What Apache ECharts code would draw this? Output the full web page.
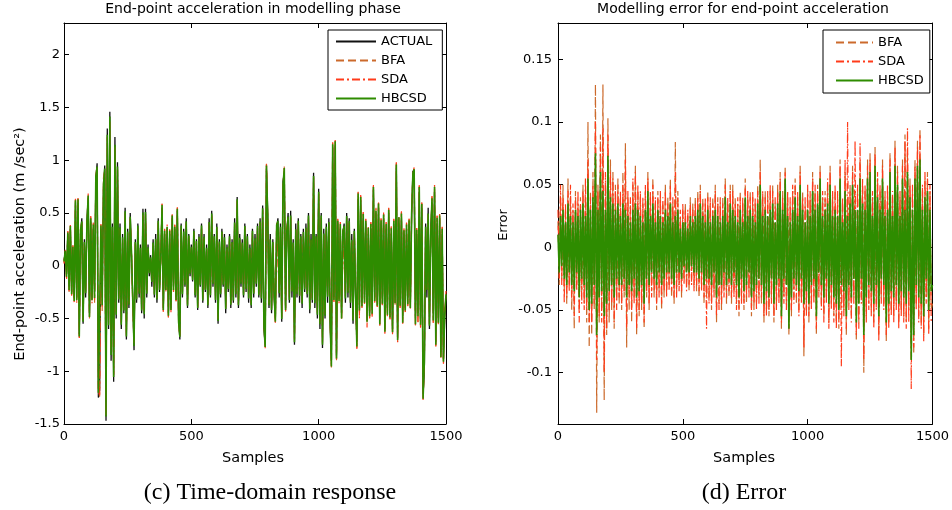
<!DOCTYPE html>
<html>
<head>
<meta charset="utf-8">
<script src="https://cdn.jsdelivr.net/npm/echarts@6/dist/echarts.min.js"></script>
<style>html,body{margin:0;padding:0;background:#fff}#c{width:952px;height:510px}</style>
</head>
<body>
<div id="c"></div>
<script>
const sampleStep = 5;

// End-point acceleration, actual (m/sec^2)
const actual = [
 0.05,0.12,-0.08,0.3,-0.2,0.35,-0.25,0.15,-0.3,0.6,
 -0.3,0.6,-0.65,0.3,0.45,-0.55,0.25,-0.3,0.43,0.64,
 -0.45,0.42,-0.3,0.35,-0.25,0.8,0.97,-1.25,-1.18,0.35,
 -0.3,0.7,0.95,-1.47,1.3,-0.6,1.46,-0.9,0.4,-1.1,
 1.22,-0.5,0.98,-0.35,0.4,-0.6,0.3,-0.45,0.55,-0.7,
 0.35,-0.4,0.5,0.1,-0.3,-0.8,0.25,-0.35,0.4,-0.3,
 0.2,-0.45,0.54,-0.5,0.54,-0.3,0.2,-0.1,0.1,-0.2,
 0.25,-0.3,0.3,-0.35,0.45,-0.25,0.1,0.55,-0.4,0.3,
 -0.2,0.35,-0.45,0.3,-0.4,0.45,-0.2,0.35,-0.3,0.52,
 -0.5,-0.7,0.4,-0.3,0.35,-0.2,0.45,-0.4,0.3,-0.1,
 0.2,-0.15,0.35,-0.3,0.25,-0.42,0.3,-0.2,0.4,-0.35,
 0.3,-0.25,0.2,-0.4,0.45,-0.3,0.52,-0.2,0.3,-0.35,
 0.4,-0.55,0.25,-0.3,0.35,-0.2,0.3,-0.45,0.2,-0.25,
 0.3,-0.4,0.25,-0.35,0.45,-0.3,0.65,-0.4,0.3,-0.2,
 0.25,-0.3,0.4,-0.25,0.3,-0.35,0.2,-0.4,0.35,-0.3,
 0.3,-0.2,0.4,-0.3,0.45,-0.35,0.57,-0.6,-0.75,0.92,
 0.5,-0.4,0.3,-0.45,0.25,-0.3,-0.5,0.35,0.45,-0.3,
 0.4,-0.53,0.8,0.88,-0.4,0.3,0.5,-0.35,0.52,-0.3,
 0.25,-0.75,0.4,-0.3,0.45,-0.35,0.3,-0.4,0.35,-0.25,
 0.4,-0.3,0.5,-0.45,0.3,-0.35,0.88,-0.4,0.3,-0.5,
 0.73,-0.6,0.5,-0.78,0.35,-0.5,0.4,-0.35,0.45,-0.55,
 -0.9,1.12,-0.3,1.14,-0.85,0.4,-0.3,0.35,-0.45,0.3,
 0.4,-0.35,0.5,-0.3,0.45,-0.4,0.3,-0.55,0.35,-0.3,
 -0.72,0.63,-0.4,0.62,-0.35,0.45,-0.3,0.4,-0.5,0.3,
 -0.45,0.35,-0.4,0.72,-0.3,0.45,-0.35,0.55,-0.5,0.4,
 -0.3,0.45,-0.6,0.35,-0.4,0.5,-0.45,0.3,-0.6,0.4,
 -0.3,0.93,-0.68,0.4,-0.35,0.45,-0.48,0.3,-0.4,0.35,
 -0.3,0.4,-0.35,0.45,0.9,0.88,-0.5,0.3,-0.45,0.7,
 -0.5,0.55,-1.22,-1.0,0.4,-0.3,0.55,-0.6,0.35,0.6,
 -0.45,0.7,-0.72,0.4,-0.5,0.45,-0.82,0.3,-0.88,-0.5,
 -0.3
];

// Modelling error, BFA
const bfaErr = [
 .02,-.03,.04,-.025,.05,-.035,.03,-.045,.055,-.03,
 .04,-.05,.03,-.065,.045,-.03,.035,-.05,.04,-.035,
 .05,-.045,.04,-.06,.1,-.08,.045,-.07,.06,-.05,
 .13,-.132,.05,-.06,.09,-.05,.13,-.122,.05,-.07,
 .103,-.06,.07,-.05,.06,-.065,.05,-.04,.055,-.045,
 .04,-.05,.06,-.04,.083,-.08,.04,-.05,.035,-.06,
 .05,-.04,.065,-.07,.045,-.055,.04,-.05,.035,-.065,
 .045,-.04,.06,-.05,.04,-.035,.055,-.04,.035,-.05,
 .045,-.035,.04,-.05,.035,-.04,.05,-.035,.04,-.03,
 .055,-.04,.035,-.045,.084,-.035,.045,-.03,.025,-.04,
 .03,-.025,.035,-.03,.025,-.035,.04,-.025,.035,-.03,
 .04,-.035,.045,-.04,.05,-.03,.04,-.045,.035,-.04,
 .045,-.04,.035,-.05,.04,-.035,.05,-.06,.04,-.045,
 .035,-.05,.04,-.035,.055,-.045,.035,-.04,.05,-.045,
 .05,-.035,.04,-.045,.035,-.055,.045,-.04,.035,-.05,
 .055,-.045,.04,-.035,.045,-.055,.04,-.05,.035,-.045,
 .05,-.04,.07,-.045,.04,-.06,.045,-.05,.04,-.055,
 .045,-.04,.05,-.06,.035,-.045,.05,-.04,.06,-.065,
 .045,-.04,.065,-.045,.04,-.07,.035,-.055,.045,-.04,
 .055,-.045,.04,-.05,.065,-.04,.045,-.087,.035,-.05,
 .045,-.06,.04,-.045,.06,-.04,.045,-.07,.05,-.035,
 .065,-.045,.04,-.055,.045,-.04,.05,-.06,.065,-.045,
 .04,-.055,.045,-.06,.04,-.065,.07,-.045,.035,-.05,
 .06,-.07,.04,-.045,.05,-.055,.065,-.04,.045,-.075,
 .045,-.06,.07,-.04,.05,-.1,.045,-.055,.07,-.045,
 .075,-.05,.04,-.06,.08,-.045,.055,-.07,.045,-.04,
 .07,-.045,.04,-.075,.045,-.06,.075,-.05,.04,-.055,
 .085,-.045,.065,-.06,.04,-.05,.07,-.055,.09,-.06,
 .075,-.05,.055,-.08,.045,-.085,.07,-.045,.085,-.055,
 .095,-.06,.045,-.07,.055,-.04,.06,-.065,.045,-.05,
 -.045
];

// Modelling error, SDA
const sdaErr = [
 .03,-.025,.05,-.03,.04,-.045,.035,-.04,.045,-.035,
 .05,-.04,.035,-.055,.04,-.035,.045,-.06,.035,-.045,
 .045,-.05,.055,-.05,.07,-.06,.04,-.06,.05,-.045,
 .1,-.09,.045,-.055,.08,-.06,.095,-.1,.06,-.065,
 .09,-.05,.06,-.045,.055,-.06,.045,-.05,.05,-.04,
 .045,-.045,.05,-.035,.07,-.065,.045,-.04,.04,-.05,
 .055,-.045,.06,-.065,.05,-.05,.045,-.045,.04,-.06,
 .05,-.035,.055,-.045,.045,-.04,.05,-.035,.04,-.045,
 .04,-.04,.045,-.045,.04,-.035,.045,-.04,.035,-.035,
 .05,-.035,.04,-.04,.06,-.04,.04,-.035,.03,-.035,
 .035,-.03,.03,-.035,.03,-.03,.035,-.03,.03,-.035,
 .035,-.03,.04,-.035,.045,-.035,.035,-.04,.04,-.065,
 .04,-.045,.04,-.045,.035,-.04,.045,-.055,.035,-.05,
 .04,-.045,.035,-.04,.05,-.04,.04,-.035,.045,-.04,
 .045,-.04,.035,-.05,.04,-.05,.04,-.045,.04,-.045,
 .05,-.04,.045,-.04,.04,-.05,.045,-.045,.04,-.05,
 .045,-.045,.06,-.04,.045,-.055,.04,-.055,.045,-.05,
 .05,-.045,.045,-.055,.04,-.05,.045,-.045,.055,-.06,
 .04,-.045,.06,-.05,.045,-.065,.04,-.05,.05,-.045,
 .05,-.04,.045,-.055,.06,-.045,.04,-.08,.04,-.055,
 .05,-.055,.045,-.05,.055,-.045,.05,-.065,.045,-.04,
 .06,-.05,.045,-.06,.04,-.045,.055,-.065,.06,-.05,
 .045,-.06,.05,-.065,.045,-.06,.065,-.095,.04,-.055,
 .07,-.065,.1,-.05,.045,-.06,.06,-.045,.085,-.07,
 .05,-.065,.083,-.045,.055,-.09,.05,-.06,.065,-.05,
 .07,-.055,.045,-.065,.075,-.05,.06,-.075,.05,-.045,
 .065,-.05,.045,-.07,.05,-.065,.07,-.055,.045,-.06,
 .08,-.05,.06,-.065,.045,-.055,.065,-.06,.085,-.065,
 .095,-.06,.05,-.113,.05,-.08,.065,-.05,.08,-.06,
 .09,-.065,.05,-.075,.06,-.045,.055,-.07,.05,-.06,
 -.06
];

// Modelling error, HBCSD
const hbcsdErr = [
 .01,-.02,.025,-.015,.03,-.025,.02,-.03,.035,-.02,
 .025,-.03,.02,-.035,.03,-.02,.025,-.04,.03,-.025,
 .035,-.03,.025,-.04,.055,-.05,.03,-.045,.04,-.03,
 .075,-.07,.03,-.04,.06,-.035,.045,-.055,.03,-.045,
 .073,-.035,.04,-.03,.035,-.04,.03,-.025,.035,-.03,
 .025,-.03,.035,-.025,.03,-.04,.025,-.03,.02,-.035,
 .03,-.025,.035,-.04,.03,-.035,.025,-.03,.02,-.045,
 .03,-.025,.045,-.03,.025,-.02,.035,-.025,.02,-.03,
 .03,-.02,.025,-.03,.02,-.025,.03,-.02,.025,-.02,
 .035,-.025,.02,-.03,.025,-.02,.03,-.02,.015,-.025,
 .02,-.015,.02,-.02,.015,-.02,.025,-.015,.02,-.02,
 .025,-.02,.03,-.025,.035,-.02,.025,-.03,.02,-.025,
 .03,-.025,.02,-.03,.025,-.02,.03,-.04,.025,-.03,
 .02,-.03,.025,-.02,.04,-.03,.02,-.025,.035,-.03,
 .03,-.02,.025,-.03,.02,-.04,.03,-.025,.02,-.035,
 .04,-.03,.025,-.02,.03,-.04,.025,-.035,.02,-.03,
 .035,-.025,.05,-.03,.025,-.045,.03,-.035,.025,-.04,
 .03,-.025,.035,-.045,.02,-.03,.035,-.025,.045,-.055,
 .03,-.025,.055,-.03,.025,-.065,.02,-.04,.03,-.025,
 .04,-.03,.025,-.035,.05,-.025,.03,-.045,.02,-.035,
 .03,-.045,.025,-.03,.045,-.025,.03,-.055,.035,-.02,
 .055,-.03,.025,-.04,.03,-.025,.035,-.045,.05,-.03,
 .025,-.04,.03,-.045,.025,-.05,.055,-.03,.02,-.035,
 .045,-.055,.025,-.03,.035,-.04,.05,-.025,.03,-.06,
 .03,-.045,.055,-.025,.035,-.07,.03,-.04,.055,-.03,
 .06,-.035,.025,-.045,.065,-.03,.04,-.055,.03,-.025,
 .055,-.03,.025,-.06,.03,-.045,.06,-.035,.025,-.04,
 .065,-.03,.05,-.045,.025,-.035,.055,-.04,.03,-.045,
 .06,-.035,.04,-.09,.03,-.07,.055,-.03,.065,-.04,
 .07,-.045,.03,-.055,.04,-.025,.045,-.05,.03,-.035,
 -.03
];

// Axis ticks
const xTicks = [0, 500, 1000, 1500];
const accTicks = [-1.5, -1, -0.5, 0, 0.5, 1, 1.5, 2];
const errTicks = [-0.1, -0.05, 0, 0.05, 0.1, 0.15];

const names = ['ACTUAL', 'BFA', 'SDA', 'HBCSD'];
const colors = { ACTUAL: '#111111', BFA: '#CC6A2C', SDA: '#FF3B1A', HBCSD: '#2E8C00' };

const pairs = arr => arr.map((v, i) => [i * sampleStep, v]);
const predicted = err => actual.map((v, i) => [i * sampleStep, +(v - err[i]).toFixed(4)]);

const FONT = 'DejaVu Sans';
const fmt = v => String(Math.round(v * 1000) / 1000);

function xAx(grid, pos) {
  return {
    type: 'value', gridIndex: grid, position: pos, min: 0, max: 1500,
    axisLine: { show: true, onZero: false, lineStyle: { color: '#000', width: 1 } },
    axisTick: { show: true, inside: true, length: 5, customValues: xTicks, lineStyle: { color: '#000' } },
    axisLabel: { show: pos === 'bottom', customValues: xTicks, margin: 6, color: '#000', fontFamily: FONT, fontSize: 13, formatter: v => String(v) },
    splitLine: { show: false }
  };
}
function yAx(grid, pos, min, max, ticks, margin) {
  return {
    type: 'value', gridIndex: grid, position: pos, min: min, max: max,
    axisLine: { show: true, onZero: false, lineStyle: { color: '#000', width: 1 } },
    axisTick: { show: true, inside: true, length: 5, customValues: ticks, lineStyle: { color: '#000' } },
    axisLabel: { show: pos === 'left', customValues: ticks, margin: margin, color: '#000', fontFamily: FONT, fontSize: 13, formatter: fmt },
    splitLine: { show: false }
  };
}

const styleOf = {
  ACTUAL: { type: 'solid', width: 1.3 },
  BFA: { type: [8, 4], width: 1.2 },
  SDA: { type: [8, 3, 2, 3], width: 1.2 },
  HBCSD: { type: 'solid', width: 1.6 }
};

function line(name, data, xi, yi) {
  return {
    type: 'line', name: name, data: data, xAxisIndex: xi, yAxisIndex: yi,
    symbol: 'none', showSymbol: false, animation: false,
    lineStyle: Object.assign({ color: colors[name] }, styleOf[name]),
    itemStyle: { color: colors[name] },
    emphasis: { disabled: true }
  };
}

const series = [
  line('ACTUAL', pairs(actual), 0, 0),
  line('BFA', predicted(bfaErr), 0, 0),
  line('SDA', predicted(sdaErr), 0, 0),
  line('HBCSD', predicted(hbcsdErr), 0, 0),
  line('BFA', pairs(bfaErr), 2, 2),
  line('SDA', pairs(sdaErr), 2, 2),
  line('HBCSD', pairs(hbcsdErr), 2, 2)
];

const txt = (x, y, text, size, opts) => Object.assign({
  type: 'text', x: x, y: y,
  style: { text: text, fill: '#000', font: size + 'px "' + FONT + '"', textAlign: 'center', textVerticalAlign: 'middle' }
}, opts || {});

const legendCommon = {
  orient: 'vertical', borderColor: '#000', borderWidth: 1, backgroundColor: '#fff', selectedMode: false,
  itemStyle: { opacity: 0, borderWidth: 0 },
  textStyle: { color: '#000', fontFamily: FONT, fontSize: 13 }
};

const chart = echarts.init(document.getElementById('c'), null, { renderer: 'canvas' });
chart.setOption({
  animation: false,
  backgroundColor: '#fff',
  grid: [
    { left: 64, top: 23, width: 382, height: 401, containLabel: false },
    { left: 558, top: 23, width: 377, height: 401, containLabel: false }
  ],
  xAxis: [xAx(0, 'bottom'), xAx(0, 'top'), xAx(1, 'bottom'), xAx(1, 'top')],
  yAxis: [
    yAx(0, 'left', -1.5, 2.3, accTicks, 4),
    yAx(0, 'right', -1.5, 2.3, accTicks, 4),
    yAx(1, 'left', -0.141, 0.179, errTicks, 6),
    yAx(1, 'right', -0.141, 0.179, errTicks, 6)
  ],
  legend: [
    Object.assign({}, legendCommon, {
      data: names, left: 328, top: 30,
      itemWidth: 40, itemHeight: 14, itemGap: 6, padding: [5, 10, 5, 7]
    }),
    Object.assign({}, legendCommon, {
      data: ['BFA', 'SDA', 'HBCSD'], left: 823, top: 30,
      itemWidth: 37, itemHeight: 14, itemGap: 6, padding: [6, 6, 6, 12]
    })
  ],
  series: series,
  graphic: [
    txt(253, 9, 'End-point acceleration in modelling phase', 14),
    txt(743, 9, 'Modelling error for end-point acceleration', 14),
    txt(253, 458, 'Samples', 14.5),
    txt(744, 458, 'Samples', 14.5),
    txt(20, 244, 'End-point acceleration (m /sec²)', 14.5, { rotation: Math.PI / 2 }),
    txt(504, 225, 'Error', 13, { rotation: Math.PI / 2 }),
    {
      type: 'text', x: 270, y: 493,
      style: { text: '(c) Time-domain response', fill: '#000', font: '24px "Liberation Serif"', textAlign: 'center', textVerticalAlign: 'middle' }
    },
    {
      type: 'text', x: 744, y: 493,
      style: { text: '(d) Error', fill: '#000', font: '24px "Liberation Serif"', textAlign: 'center', textVerticalAlign: 'middle' }
    }
  ]
});
</script>
</body>
</html>
